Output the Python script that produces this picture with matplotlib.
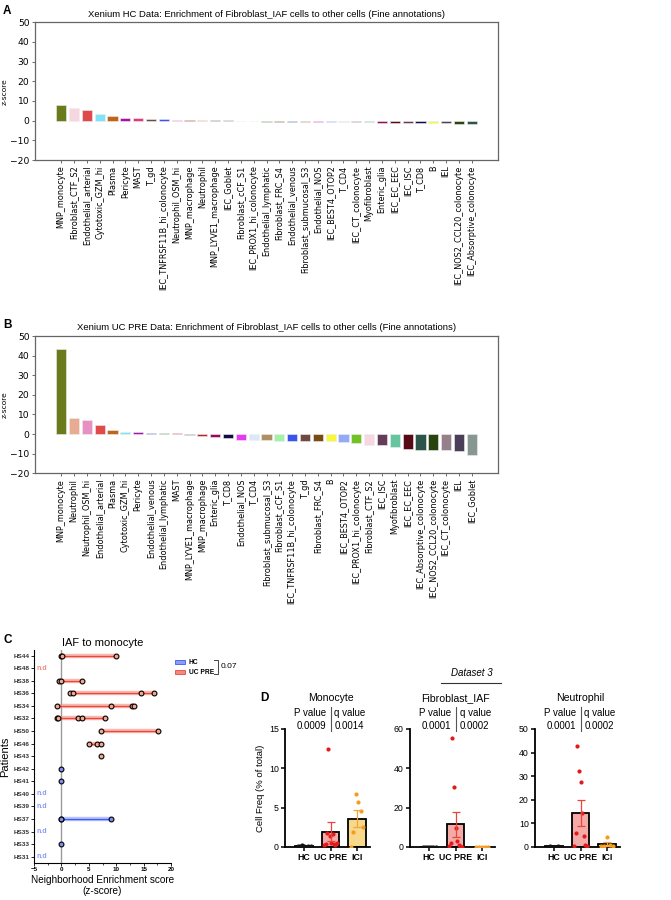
import matplotlib
matplotlib.use('Agg')
import matplotlib.pyplot as plt
import numpy as np
from matplotlib.lines import Line2D
from matplotlib.patches import Rectangle

# ---- panel A: HC enrichment (z-score) ----
hc_cells = ['MNP_monocyte', 'Fibroblast_CTF_S2', 'Endothelial_arterial', 'Cytotoxic_GZM_hi', 'Plasma',
            'Pericyte', 'MAST', 'T_gd', 'IEC_TNFRSF11B_hi_colonocyte', 'Neutrophil_OSM_hi', 'MNP_macrophage',
            'Neutrophil', 'MNP_LYVE1_macrophage', 'IEC_Goblet', 'Fibroblast_cCF_S1', 'IEC_PROX1_hi_colonocyte',
            'Endothelial_lymphatic', 'Fibroblast_FRC_S4', 'Endothelial_venous', 'Fibroblast_submucosal_S3',
            'Endothelial_NOS', 'IEC_BEST4_OTOP2', 'T_CD4', 'IEC_CT_colonocyte', 'Myofibroblast', 'Enteric_glia',
            'IEC_EC_EEC', 'IEC_ISC', 'T_CD8', 'B', 'IEL', 'IEC_NOS2_CCL20_colonocyte', 'IEC_Absorptive_colonocyte']
hc_z = [8.1, 6.3, 5.3, 3.4, 2.4, 1.5, 1.5, 1.0, 0.8, 0.5, 0.4, 0.35, 0.3, 0.3, -0.3, -0.4, -0.5, -0.5, -0.5,
        -0.6, -0.7, -0.7, -0.7, -0.8, -0.9, -1.0, -1.0, -1.1, -1.1, -1.1, -1.2, -1.7, -1.9]

# ---- panel B: UC PRE enrichment (z-score) ----
uc_cells = ['MNP_monocyte', 'Neutrophil', 'Neutrophil_OSM_hi', 'Endothelial_arterial', 'Plasma',
            'Cytotoxic_GZM_hi', 'Pericyte', 'Endothelial_venous', 'Endothelial_lymphatic', 'MAST',
            'MNP_LYVE1_macrophage', 'MNP_macrophage', 'Enteric_glia', 'T_CD8', 'Endothelial_NOS', 'T_CD4',
            'Fibroblast_submucosal_S3', 'Fibroblast_cCF_S1', 'IEC_TNFRSF11B_hi_colonocyte', 'T_gd',
            'Fibroblast_FRC_S4', 'B', 'IEC_BEST4_OTOP2', 'IEC_PROX1_hi_colonocyte', 'Fibroblast_CTF_S2', 'IEC_ISC',
            'Myofibroblast', 'IEC_EC_EEC', 'IEC_Absorptive_colonocyte', 'IEC_NOS2_CCL20_colonocyte',
            'IEC_CT_colonocyte', 'IEL', 'IEC_Goblet']
uc_z = [43.2, 8.0, 7.0, 4.4, 1.9, 1.2, 0.9, 0.7, 0.5, 0.5, -0.5, -0.9, -1.5, -1.9, -2.9, -2.9, -3.1, -3.4,
        -3.7, -3.6, -3.7, -3.6, -3.9, -4.4, -5.4, -5.8, -6.8, -7.8, -8.0, -8.2, -8.3, -8.7, -10.7]

cell_colors = {
    'MNP_monocyte': '#6b7b1c', 'Fibroblast_CTF_S2': '#f6d6e0', 'Endothelial_arterial': '#e04a4a',
    'Cytotoxic_GZM_hi': '#80e2f8', 'Plasma': '#c0641c', 'Pericyte': '#a414a8', 'MAST': '#e23a7a',
    'T_gd': '#704a42', 'IEC_TNFRSF11B_hi_colonocyte': '#3a54f0', 'Neutrophil_OSM_hi': '#e690c4',
    'MNP_macrophage': '#b02828', 'Neutrophil': '#e8aa90', 'MNP_LYVE1_macrophage': '#7a7a7a',
    'IEC_Goblet': '#879892', 'Fibroblast_cCF_S1': '#a4f2a8', 'IEC_PROX1_hi_colonocyte': '#72c224',
    'Endothelial_lymphatic': '#5e9e5a', 'Fibroblast_FRC_S4': '#7a4a14', 'Endothelial_venous': '#3a68b0',
    'Fibroblast_submucosal_S3': '#b09062', 'Endothelial_NOS': '#e43af4', 'IEC_BEST4_OTOP2': '#94aaf4',
    'T_CD4': '#dce8f8', 'IEC_CT_colonocyte': '#98808a', 'Myofibroblast': '#66c4a0', 'Enteric_glia': '#960a5a',
    'IEC_EC_EEC': '#580a14', 'IEC_ISC': '#643e58', 'T_CD8': '#0e0e44', 'B': '#f8f838', 'IEL': '#4a3e58',
    'IEC_NOS2_CCL20_colonocyte': '#2a4410', 'IEC_Absorptive_colonocyte': '#2c5448',
}

# ---- panel C: IAF to monocyte per patient ----
patients = ['HS44', 'HS48', 'HS38', 'HS36', 'HS34', 'HS32', 'HS50', 'HS46', 'HS43',
            'HS42', 'HS41', 'HS40', 'HS39', 'HS37', 'HS35', 'HS33', 'HS31']
patient_group = ['UC PRE'] * 9 + ['HC'] * 8
patient_scores = [[0.0, 0.1, 9.9], [], [-0.5, -0.1, 3.7], [1.5, 2.1, 14.6, 16.9], [-0.8, 9.1, 12.8, 13.3],
                  [-0.8, -0.6, 3.0, 3.8, 8.0], [7.3, 17.7], [5.1, 6.5, 7.3], [7.3], [-0.1], [-0.1], [], [],
                  [-0.1, 0.0, 9.0], [], [-0.1], []]

# ---- panel D: cell frequencies (% of total) ----
d_groups = ['HC', 'UC PRE', 'ICI']
d_titles = ['Monocyte', 'Fibroblast_IAF', 'Neutrophil']
d_pvals = ['0.0009', '0.0001', '0.0001']
d_qvals = ['0.0014', '0.0002', '0.0002']
d_ymax = [15, 60, 50]
d_ystep = [5, 20, 10]
mono = [[0.1, 0.15, 0.2, 0.1, 0.05, 0.15, 0.1],
        [0.3, 0.4, 1.8, 12.5, 1.4, 0.5, 1.6, 0.4, 0.3, 0.5],
        [0.05, 1.9, 6.8, 5.7, 4.6, 2.6]]
fib = [[0.05, 0.05, 0.05, 0.05, 0.05, 0.05, 0.05],
       [0.5, 2.0, 55.3, 30.7, 9.7, 3.3, 1.0, 0.3, 0.2],
       [0.1, 0.1, 0.1, 0.1, 0.1]]
neu = [[0.2, 0.3, 0.2, 0.2, 0.3, 0.2],
       [0.6, 5.9, 42.7, 32.4, 27.7, 14.5, 4.8, 0.7, 0.5],
       [0.3, 0.6, 4.2, 1.0, 0.5]]

W, H = 671, 900
ARIAL = 'Liberation Sans'


def fx(x):
    return x / W


def fy(y):
    return 1 - y / H


fig = plt.figure(figsize=(W / 100, H / 100), dpi=100)


def enrichment_panel(top, bottom, cells, z, title, letter):
    ax = fig.add_axes([fx(35), fy(bottom), fx(498) - fx(35), fy(top) - fy(bottom)])
    ax.bar(range(len(cells)), z, width=0.8, color=[cell_colors[c] for c in cells],
           edgecolor='#eeeeee', linewidth=0.4)
    ax.set_xlim(-2.04, len(cells) + 1.04)
    ax.set_ylim(-20, 50)
    ax.set_yticks(range(-20, 51, 10))
    ax.set_xticks(range(len(cells)))
    ax.set_xticklabels(cells, rotation=90, fontsize=5.9)
    ax.tick_params(axis='y', labelsize=6.6, length=2.5, width=0.6, color='#555555', pad=1.5)
    ax.tick_params(axis='x', length=2.5, width=0.6, color='#555555', pad=1.5)
    for s in ax.spines.values():
        s.set_color('#666666')
        s.set_linewidth(0.9)
    ax.set_ylabel('z-score', fontsize=5.4, labelpad=2)
    ax.set_title(title, fontsize=6.8, family=ARIAL, pad=4)
    fig.text(fx(3), fy(top - 11), letter, fontsize=8.5, fontweight='bold', family=ARIAL, va='center')
    return ax


enrichment_panel(22.3, 160, hc_cells, hc_z,
                 'Xenium HC Data: Enrichment of Fibroblast_IAF cells to other cells (Fine annotations)', 'A')
enrichment_panel(336, 473.3, uc_cells, uc_z,
                 'Xenium UC PRE Data: Enrichment of Fibroblast_IAF cells to other cells (Fine annotations)', 'B')

# ---- panel C ----
axC = fig.add_axes([fx(34), fy(863), fx(171) - fx(34), fy(650) - fy(863)])
c_style = {
    'UC PRE': dict(line='#e8483c', band='#f28a7c', face='#f7a890', nd='#f08a80'),
    'HC': dict(line='#3d5af0', band='#8c9cf5', face='#7d8ff2', nd='#8a9af5'),
}
axC.axvline(0, color='#9a9a9a', lw=1, zorder=1)
for i, (p, g, sc) in enumerate(zip(patients, patient_group, patient_scores)):
    st = c_style[g]
    if not sc:
        axC.text(-4.6, i, 'n.d', color=st['nd'], fontsize=5, fontweight='bold', family=ARIAL, va='center')
        continue
    if len(sc) > 1:
        axC.plot([min(sc), max(sc)], [i, i], color=st['band'], lw=3.2, alpha=0.6, solid_capstyle='butt', zorder=2)
        axC.plot([min(sc), max(sc)], [i, i], color=st['line'], lw=0.9, zorder=3)
    axC.scatter(sc, [i] * len(sc), s=12, facecolor=st['face'], edgecolor='black', linewidth=0.8, zorder=4)
axC.set_xlim(-5, 20)
axC.set_ylim(len(patients) - 0.5, -0.45)
axC.set_yticks(range(len(patients)))
axC.set_yticklabels(patients, fontsize=4.6, fontweight='bold', family=ARIAL, color='#333333')
axC.set_xticks([-5, 0, 5, 10, 15, 20])
axC.set_xticks(np.arange(-5, 20.1, 2.5), minor=True)
axC.tick_params(axis='x', labelsize=4.5, length=2, width=0.6, pad=1)
axC.tick_params(axis='x', which='minor', length=1.2, width=0.5)
axC.tick_params(axis='y', length=2, width=0.6, pad=1.5)
for lab in axC.get_xticklabels():
    lab.set_family(ARIAL)
    lab.set_fontweight('bold')
axC.spines['top'].set_visible(False)
axC.spines['right'].set_visible(False)
axC.spines['left'].set_linewidth(0.8)
axC.spines['bottom'].set_linewidth(0.8)
axC.set_ylabel('Patients', fontsize=8, family=ARIAL, labelpad=2)
axC.set_xlabel('Neighborhood Enrichment score\n(z-score)', fontsize=7.2, family=ARIAL, labelpad=2,
               linespacing=1.1)
axC.set_title('IAF to monocyte', fontsize=8, family=ARIAL, pad=3)
fig.text(fx(3), fy(640), 'C', fontsize=8.5, fontweight='bold', family=ARIAL, va='center')

# legend for C
for lab, g, yy in [('HC', 'HC', 662), ('UC PRE', 'UC PRE', 672)]:
    st = c_style[g]
    fig.add_artist(Rectangle((fx(175), fy(yy + 2.2)), fx(10), fy(yy - 2.2) - fy(yy + 2.2),
                             facecolor=st['band'], edgecolor=st['line'], lw=0.6, transform=fig.transFigure))
    fig.text(fx(189), fy(yy), lab, fontsize=4.8, fontweight='bold', family=ARIAL, va='center')
fig.add_artist(Line2D([fx(214), fx(218), fx(218), fx(214)], [fy(660), fy(660), fy(674), fy(674)],
                      color='#444444', lw=0.7, transform=fig.transFigure))
fig.text(fx(221), fy(667), '0.07', fontsize=6, family=ARIAL, va='center')

# ---- panel D ----
pt_colors = ['#111111', '#e31a1c', '#f39c1f']
bar_fill = ['white', '#f4aaa6', '#f8d88a']
err_colors = ['#111111', '#e8453c', '#f4a43a']
d_lefts = [285, 410, 535]
for k, (data, title) in enumerate(zip([mono, fib, neu], d_titles)):
    ax = fig.add_axes([fx(d_lefts[k]), fy(847), fx(85), fy(729) - fy(847)])
    for j, vals in enumerate(data):
        vals = np.array(vals)
        m = vals.mean()
        sem = vals.std(ddof=1) / np.sqrt(len(vals))
        ax.bar(j, m, width=0.68, color=bar_fill[j], edgecolor='black', linewidth=1.3, zorder=1)
        xs = j + np.linspace(-0.24, 0.24, len(vals))
        ax.scatter(xs, vals, s=9, color=pt_colors[j], zorder=3, linewidth=0)
        ax.errorbar(j, m, yerr=sem, color=err_colors[j], capsize=3, lw=0.9, capthick=0.9, zorder=4)
    ax.set_xlim(-0.73, 2.5)
    ax.set_ylim(0, d_ymax[k])
    ax.set_yticks(range(0, d_ymax[k] + 1, d_ystep[k]))
    ax.set_xticks(range(len(d_groups)))
    ax.set_xticklabels(d_groups, fontsize=6.3, family=ARIAL, fontweight='bold')
    for lab in ax.get_yticklabels():
        lab.set_family(ARIAL)
    ax.tick_params(axis='y', labelsize=6.3, length=3, width=1.1, pad=1.5)
    ax.tick_params(axis='x', length=3, width=1.1, pad=1.5)
    ax.spines['top'].set_visible(False)
    ax.spines['right'].set_visible(False)
    ax.spines['left'].set_linewidth(1.3)
    ax.spines['bottom'].set_linewidth(1.3)
    if k == 0:
        ax.set_ylabel('Cell Freq (% of total)', fontsize=6.8, family=ARIAL, labelpad=3)
    cx = d_lefts[k] + 45.5
    fig.text(fx(cx), fy(698), title, fontsize=7.6, family=ARIAL, ha='center', va='center')
    fig.text(fx(cx - 4), fy(713), 'P value', fontsize=7, family=ARIAL, ha='right', va='center')
    fig.text(fx(cx + 4), fy(713), 'q value', fontsize=7, family=ARIAL, ha='left', va='center')
    fig.text(fx(cx - 4), fy(726), d_pvals[k], fontsize=7, family=ARIAL, ha='right', va='center')
    fig.text(fx(cx + 4), fy(726), d_qvals[k], fontsize=7, family=ARIAL, ha='left', va='center')
    fig.add_artist(Line2D([fx(cx), fx(cx)], [fy(707), fy(731)], color='#555555', lw=0.8,
                          transform=fig.transFigure))

fig.text(fx(260), fy(698), 'D', fontsize=8.5, fontweight='bold', family=ARIAL, va='center')
fig.text(fx(472), fy(673), 'Dataset 3', fontsize=7, family=ARIAL, style='italic', ha='center', va='center')
fig.add_artist(Line2D([fx(441), fx(501)], [fy(683), fy(683)], color='#333333', lw=0.8,
                      transform=fig.transFigure))

fig.savefig('out.png', dpi=100)
